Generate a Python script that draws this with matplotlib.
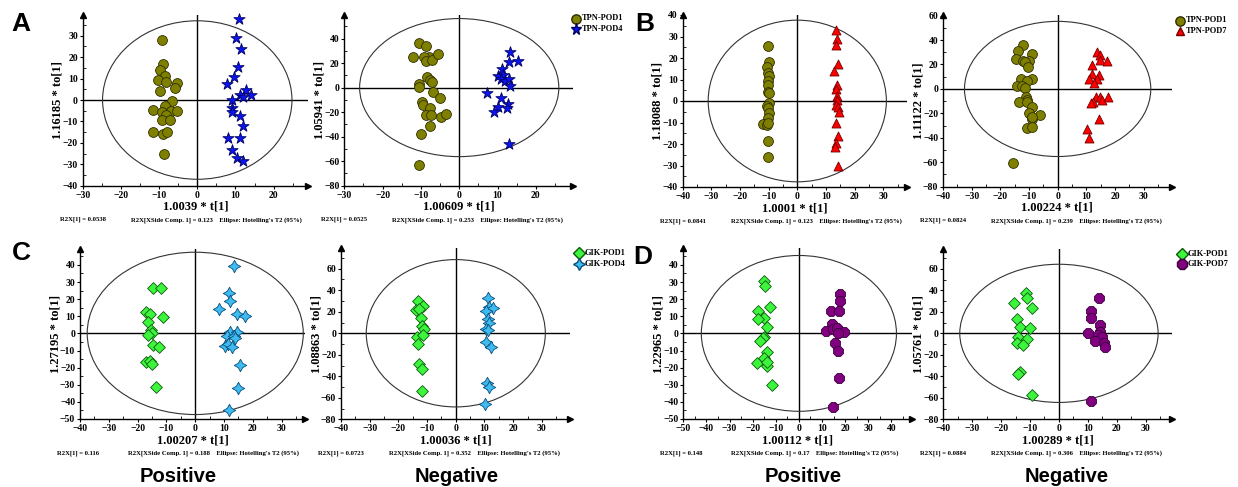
import matplotlib
matplotlib.use("Agg")
import matplotlib.pyplot as plt
from matplotlib.patches import Ellipse
from matplotlib.ticker import MultipleLocator, AutoMinorLocator

W, H = 1238, 487

# ---- data ----
# A: TPN-POD1 vs TPN-POD4
a_pos_pod1_x = [-9.3, -9.1, -9.8, -8.5, -10.4, -8.2, -5.2, -5.7, -9.8, -6.5, -8.4, -11.5, -9.2, -7.0, -5.3,
                -8.2, -9.3, -7.1, -11.6, -9.0, -7.9, -8.8]
a_pos_pod1_y = [28.1, 16.6, 14.2, 11.1, 9.5, 8.3, 7.8, 5.6, 4.4, -0.3, -3.0, -4.7, -5.5, -5.0, -5.3,
                -6.9, -9.1, -9.2, -14.7, -15.9, -14.7, -25.0]
a_pos_pod4_x = [10.8, 10.1, 11.4, 10.6, 9.5, 7.8, 12.7, 11.1, 14.1, 11.9, 9.0, 9.0, 9.0, 11.1, 12.0,
                8.0, 11.1, 9.0, 10.4, 11.9]
a_pos_pod4_y = [38.0, 28.9, 23.6, 15.6, 10.6, 7.5, 4.7, 2.3, 2.5, 1.25, 0.0, -3.9, -5.8, -7.5, -12.2,
                -17.5, -17.5, -23.3, -26.9, -28.4]
a_neg_pod1_x = [-10.4, -8.6, -12.0, -8.0, -9.2, -8.8, -7.1, -5.5, -10.5, -10.4, -8.4, -7.5, -7.2, -6.9,
                -5.1, -9.7, -9.4, -7.7, -8.6, -7.4, -4.8, -3.4, -7.6, -9.9, -10.6]
a_neg_pod1_y = [36.1, 34.2, 25.2, 25.2, 24.7, 22.0, 22.5, 27.4, 3.0, 0.3, 8.4, 6.2, 4.9, -3.8,
                -8.4, -11.7, -14.4, -16.3, -22.5, -22.3, -23.6, -21.2, -31.5, -37.7, -63.5]
a_neg_pod4_x = [13.3, 13.0, 15.4, 11.1, 10.2, 11.5, 10.8, 11.9, 12.9, 13.3, 7.2, 10.8, 12.7, 12.4,
                10.0, 9.2, 13.1]
a_neg_pod4_y = [29.3, 21.2, 21.7, 15.2, 9.5, 10.3, 6.8, 5.7, 7.3, 1.4, -4.1, -8.7, -13.3, -16.6,
                -16.0, -19.5, -45.9]

# B: TPN-POD1 vs TPN-POD7
b_pos_pod1_x = [-10.3, -10.0, -10.7, -10.1, -10.0, -10.1, -10.3, -10.2, -10.0, -10.0, -10.7, -10.1,
                -10.0, -10.3, -11.9, -10.7, -10.1, -10.3, -10.1]
b_pos_pod1_y = [25.8, 18.0, 16.0, 13.2, 11.8, 9.3, 7.5, 4.2, 3.6, -1.1, -2.3, -3.4,
                -5.7, -8.1, -10.7, -11.2, -10.4, -18.5, -26.2]
b_pos_pod7_x = [13.6, 13.7, 13.6, 14.2, 12.7, 13.8, 13.5, 13.7, 14.0, 13.5, 14.1, 14.4, 13.5, 14.3,
                13.5, 13.1, 14.2]
b_pos_pod7_y = [32.8, 29.0, 25.9, 17.1, 14.0, 7.5, 5.4, 2.3, 0.5, -1.9, -2.6, -5.0, -10.1, -16.3,
                -19.7, -21.3, -30.1]
b_neg_pod1_x = [-12.2, -14.0, -8.8, -14.5, -12.0, -9.9, -11.4, -10.2, -12.9, -8.8, -10.8, -14.1, -12.3,
                -11.4, -11.2, -10.6, -13.4, -10.8, -9.1, -10.0, -9.1, -6.2, -8.8, -10.8, -8.8, -15.5]
b_neg_pod1_y = [36.0, 31.4, 28.6, 24.5, 22.9, 22.9, 21.8, 18.3, 7.9, 7.9, 6.8, 2.5, 2.5,
                0.5, -6.3, -9.0, -10.9, -10.9, -15.0, -19.4, -24.5, -21.3, -22.6, -32.2, -31.4, -60.3]
b_neg_pod7_x = [13.6, 14.8, 14.8, 17.1, 12.1, 12.1, 14.4, 11.0, 13.8, 12.6, 13.4, 14.8, 15.6, 17.7,
                12.2, 11.6, 14.4, 10.3, 10.9]
b_neg_pod7_y = [30.0, 27.8, 23.7, 23.2, 19.6, 12.3, 11.5, 7.9, 7.9, 4.6, -6.3, -6.3, -9.0, -6.8,
                -10.6, -11.7, -24.3, -32.5, -39.8]

# C: GIK-POD1 vs GIK-POD4
c_pos_pod1_x = [-14.5, -11.9, -17.1, -15.6, -11.3, -16.4, -15.5, -14.9, -16.4, -14.7, -12.6, -17.2,
                -15.6, -14.9, -13.5]
c_pos_pod1_y = [26.3, 26.7, 12.7, 11.3, 9.4, 6.8, 1.9, 0.4, -1.0, -7.0, -7.8, -17.0,
                -16.4, -18.0, -31.2]
c_pos_pod4_x = [13.5, 11.6, 12.0, 8.4, 14.6, 17.1, 12.0, 14.5, 10.9, 13.5, 13.9, 10.2, 11.2, 12.7,
                15.7, 15.0, 11.8]
c_pos_pod4_y = [39.4, 23.4, 19.1, 14.4, 11.3, 10.3, 1.0, 1.0, -1.6, -1.6, -2.9, -7.2, -6.4, -7.8,
                -18.3, -32.0, -44.8]
c_neg_pod1_x = [-13.2, -14.0, -11.5, -12.8, -12.2, -11.8, -11.0, -13.4, -11.5, -13.1, -12.8, -11.6, -11.6]
c_neg_pod1_y = [30.0, 21.7, 25.4, 22.6, 14.6, 7.1, 4.3, -3.1, -1.5, -9.9, -28.8, -33.5, -53.6]
c_neg_pod4_x = [11.1, 11.5, 13.1, 10.6, 11.1, 11.5, 10.6, 11.1, 10.5, 12.3, 10.9, 11.4, 10.3]
c_neg_pod4_y = [33.1, 24.2, 23.2, 20.8, 13.0, 9.9, 4.0, 3.1, -7.7, -12.4, -45.8, -50.2, -65.7]

# D: GIK-POD1 vs GIK-POD7
d_pos_pod1_x = [-15.2, -14.7, -12.3, -17.5, -15.1, -17.7, -13.9, -14.9, -15.4, -16.7, -13.6, -18.3,
                -14.9, -14.0, -13.6, -11.6]
d_pos_pod1_y = [30.8, 27.7, 15.2, 13.1, 9.2, 8.2, 3.9, -1.9, -2.5, -4.5, -10.7, -17.5,
                -14.4, -18.9, -16.7, -30.0]
d_pos_pod7_x = [18.0, 17.6, 13.9, 17.3, 14.4, 11.8, 14.7, 16.6, 19.6, 17.0, 15.7, 16.9, 17.2, 14.6]
d_pos_pod7_y = [23.0, 19.1, 13.3, 13.1, 5.3, 1.6, 2.3, 3.3, 0.8, 0.0, -5.5, -10.1, -25.9, -42.9]
d_neg_pod1_x = [-11.4, -11.2, -15.5, -9.2, -14.5, -13.5, -10.0, -14.1, -11.2, -14.4, -12.5, -13.5,
                -14.2, -9.2]
d_neg_pod1_y = [37.9, 33.2, 28.6, 23.9, 13.4, 5.6, 4.7, -3.1, -5.3, -9.3, -10.9, -35.7,
                -38.2, -57.5]
d_neg_pod7_x = [13.8, 11.1, 11.1, 14.2, 10.1, 14.2, 13.6, 15.0, 12.5, 15.6, 16.1, 11.0]
d_neg_pod7_y = [32.6, 21.1, 14.0, 7.8, 0.0, 1.6, -1.6, -3.1, -7.1, -9.3, -12.4, -62.7]

# axis texts
x_labels = ["1.0039 * t[1]", "1.00609 * t[1]", "1.0001 * t[1]", "1.00224 * t[1]",
            "1.00207 * t[1]", "1.00036 * t[1]", "1.00112 * t[1]", "1.00289 * t[1]"]
y_labels = ["1.16185 * to[1]", "1.05941 * to[1]", "1.18088 * to[1]", "1.11122 * to[1]",
            "1.27195 * to[1]", "1.08863 * to[1]", "1.22965 * to[1]", "1.05761 * to[1]"]
r2x_1 = ["0.0538", "0.0525", "0.0841", "0.0824", "0.116", "0.0723", "0.148", "0.0884"]
r2x_side = ["0.123", "0.253", "0.123", "0.239", "0.188", "0.352", "0.17", "0.306"]

# ---- styles ----
olive = dict(marker="o", c="#7f7f00", edgecolors="#2e2e00", s=50)
blue_star = dict(marker="*", c="#0a14f0", edgecolors="#000060", s=72)
red_tri = dict(marker="^", c="#ff0000", edgecolors="#700000", s=42)
lime = dict(marker="D", c="#3cf53c", edgecolors="#0a5a0a", s=36)
sky = dict(marker=(4, 1, 0), c="#3cbcf0", edgecolors="#0b4d7a", s=80)
purple = dict(marker="8", c="#800080", edgecolors="#3a003a", s=60)

serif = "Liberation Serif"

fig = plt.figure(figsize=(W / 100, H / 100), dpi=100)


def make_ax(left, right, top, bottom, xlim, ylim, xstep, ystep):
    ax = fig.add_axes([left / W, 1 - bottom / H, (right - left) / W, (bottom - top) / H])
    ax.set_xlim(*xlim)
    ax.set_ylim(*ylim)
    ax.spines["top"].set_visible(False)
    ax.spines["right"].set_visible(False)
    ax.spines["left"].set_linewidth(1.0)
    ax.spines["bottom"].set_linewidth(1.0)
    ax.xaxis.set_major_locator(MultipleLocator(xstep))
    ax.yaxis.set_major_locator(MultipleLocator(ystep))
    ax.xaxis.set_minor_locator(AutoMinorLocator(2))
    ax.yaxis.set_minor_locator(AutoMinorLocator(2))
    ax.tick_params(which="major", direction="out", length=2.5, width=0.8, pad=1)
    ax.tick_params(which="minor", direction="in", length=2, width=0.6)
    for lab in ax.get_xticklabels() + ax.get_yticklabels():
        lab.set_fontfamily(serif)
        lab.set_fontweight("bold")
        lab.set_fontsize(7)
    ax.plot(1, 0, ">k", ms=4, transform=ax.transAxes, clip_on=False)
    ax.plot(0, 1, "^k", ms=4, transform=ax.transAxes, clip_on=False)
    ax.axhline(0, color="k", lw=1.0, zorder=1)
    ax.axvline(0, color="k", lw=1.0, zorder=1)
    return ax


def decorate(ax, idx, left, bottom, semi_x, semi_y):
    ax.add_patch(Ellipse((0, 0), 2 * semi_x, 2 * semi_y, fill=False, ec="#333333", lw=0.8, zorder=1))
    ax.set_xlabel(x_labels[idx], fontfamily=serif, fontweight="bold", fontsize=9, labelpad=1)
    ax.set_ylabel(y_labels[idx], fontfamily=serif, fontweight="bold", fontsize=9, labelpad=-1)
    fig.text((left - 23) / W, 1 - (bottom + 34) / H, "R2X[1] = " + r2x_1[idx],
             fontfamily=serif, fontweight="bold", fontsize=4.8, va="center")
    fig.text((left + 48) / W, 1 - (bottom + 34) / H,
             "R2X[XSide Comp. 1] = " + r2x_side[idx] + "    Ellipse: Hotelling's T2 (95%)",
             fontfamily=serif, fontweight="bold", fontsize=4.8, va="center")


def legend_at(x, y, labels, styles):
    for i, (lab, st) in enumerate(zip(labels, styles)):
        yy = 1 - (y + i * 10.5) / H
        fig.text((x + 9) / W, yy, lab, fontfamily=serif, fontweight="bold", fontsize=6, va="center")
        fig.add_artist(plt.Line2D([(x + 3) / W], [yy], marker=st["marker"], color=st["c"],
                                  markeredgecolor=st["edgecolors"], ms=st["s"] ** 0.5 * 0.95,
                                  lw=0, transform=fig.transFigure))


panels = [
    # left, right, top, bottom, xlim, ylim, xstep, ystep, ellipse, groups
    (82.7, 308, 15, 185.7, (-30, 29), (-40, 39.7), 10, 10, (24.8, 37),
     [(a_pos_pod1_x, a_pos_pod1_y, olive), (a_pos_pod4_x, a_pos_pod4_y, blue_star)]),
    (344.3, 573, 15, 185.7, (-30, 29.7), (-80, 59.2), 10, 20, (26, 56.3),
     [(a_neg_pod1_x, a_neg_pod1_y, olive), (a_neg_pod4_x, a_neg_pod4_y, blue_star)]),
    (682.7, 906.7, 15, 187, (-40, 38.2), (-40, 40), 10, 10, (31.1, 37.6),
     [(b_pos_pod1_x, b_pos_pod1_y, olive), (b_pos_pod7_x, b_pos_pod7_y, red_tri)]),
    (943, 1171.7, 15, 186.7, (-40, 39.8), (-80, 60.5), 10, 20, (32.5, 55.3),
     [(b_neg_pod1_x, b_neg_pod1_y, olive), (b_neg_pod7_x, b_neg_pod7_y, red_tri)]),
    (80, 305, 249.3, 419, (-40, 38.1), (-50, 49.1), 10, 10, (37.5, 47.4),
     [(c_pos_pod1_x, c_pos_pod1_y, lime), (c_pos_pod4_x, c_pos_pod4_y, sky)]),
    (341, 570, 248.3, 419.3, (-40, 39.8), (-80, 79), 10, 20, (31.2, 68.5),
     [(c_neg_pod1_x, c_neg_pod1_y, lime), (c_neg_pod4_x, c_neg_pod4_y, sky)]),
    (683.3, 911.7, 248.3, 419, (-50, 48.8), (-50, 49.7), 10, 10, (42.2, 45.5),
     [(d_pos_pod1_x, d_pos_pod1_y, lime), (d_pos_pod7_x, d_pos_pod7_y, purple)]),
    (943.3, 1171.7, 249, 419.3, (-40, 39), (-80, 78.5), 10, 20, (34.3, 64.3),
     [(d_neg_pod1_x, d_neg_pod1_y, lime), (d_neg_pod7_x, d_neg_pod7_y, purple)]),
]

for idx, (l, r, t, b, xl, yl, xs, ys, ell, groups) in enumerate(panels):
    ax = make_ax(l, r, t, b, xl, yl, xs, ys)
    decorate(ax, idx, l, b, ell[0], ell[1])
    for gx, gy, st in groups:
        ax.scatter(gx, gy, marker=st["marker"], c=st["c"], edgecolors=st["edgecolors"],
                   s=st["s"], linewidths=0.6, zorder=3, clip_on=False)

legend_at(573, 18.5, ["TPN-POD1", "TPN-POD4"], [olive, blue_star])
legend_at(1177, 20.5, ["TPN-POD1", "TPN-POD7"], [olive, red_tri])
legend_at(576, 253, ["GIK-POD1", "GIK-POD4"], [lime, sky])
legend_at(1179, 253.5, ["GIK-POD1", "GIK-POD7"], [lime, purple])

# panel letters
for letter, (px, py) in zip("ABCD", [(21, 24), (645, 24), (21, 253), (643, 257)]):
    fig.text(px / W, 1 - py / H, letter, fontfamily="Liberation Sans", fontweight="bold",
             fontsize=19, ha="center", va="center")

# bottom titles
for word, px in [("Positive", 178), ("Negative", 457), ("Positive", 803), ("Negative", 1067)]:
    fig.text(px / W, 1 - 476 / H, word, fontfamily="Liberation Sans", fontweight="bold",
             fontsize=14.5, ha="center", va="center")

fig.savefig("out.png", dpi=100)
